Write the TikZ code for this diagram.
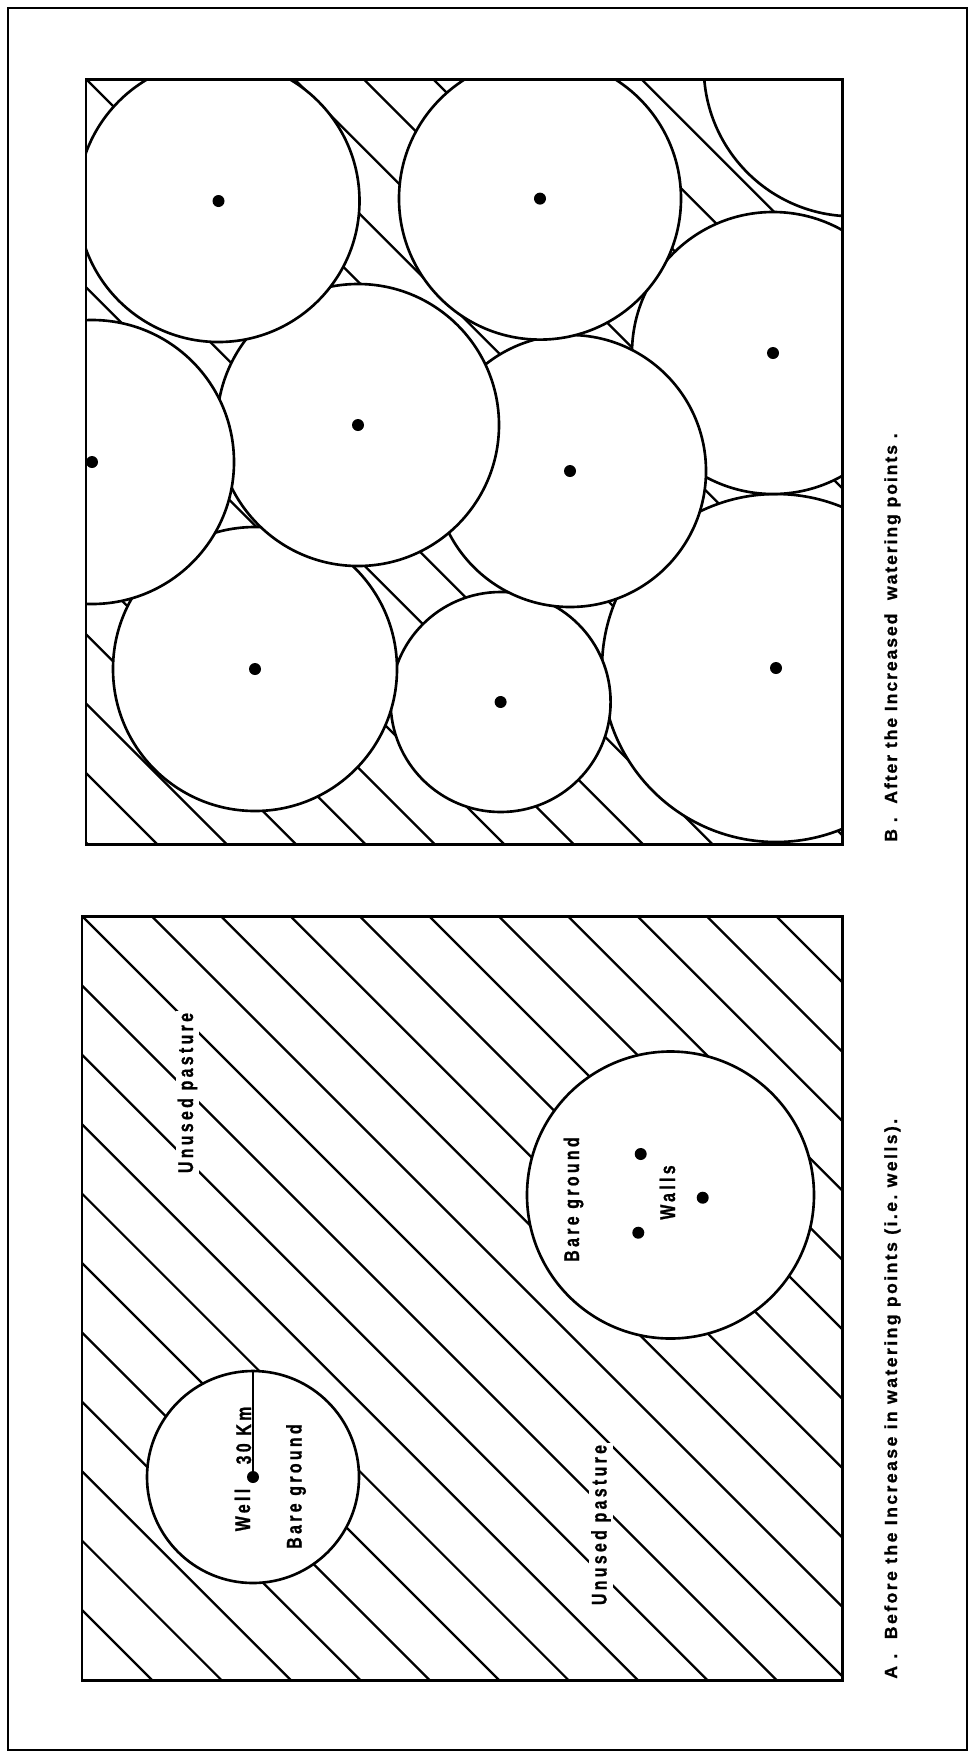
\documentclass[tikz,border=0pt]{standalone}
\usepackage{fontspec}
\setmainfont{Liberation Sans}
\newfontfamily\fuenteley[LetterSpace=11,FakeBold=1]{Liberation Sans}
\newfontfamily\fuenteleyA[LetterSpace=14,FakeBold=1]{Liberation Sans}
\newfontfamily\fuenterot[LetterSpace=16,FakeStretch=0.75,FakeBold=1]{Liberation Sans}
\usetikzlibrary{positioning}
\tikzset{
  marco/.style={draw=black,line width=1.3pt},
  zona/.style={draw=black,line width=1.7pt},
  rayado/.style={draw=black,line width=1.3pt},
  contorno/.style={draw=black,line width=1.5pt},
  disco/.style={contorno,fill=white},
  punto/.style={fill=black},
  rotulo/.style={rotate=90,anchor=base,inner sep=1pt,font=\fuenterot\bfseries\fontsize{12}{14}\selectfont},
  fondo/.style={fill=white},
  leyenda/.style={rotate=90,anchor=base west,inner sep=0pt,font=\fuenteley\bfseries\fontsize{10}{12}\selectfont},
}
\frenchspacing
\begin{document}
\begin{tikzpicture}[x=0.02cm,y=-0.02cm]
\useasboundingbox (0,0) rectangle (974,1759);
\coordinate (m1) at (8,8);
\coordinate (m2) at (967,1750);
% B: after
\coordinate (B1) at (86,79);
\coordinate (B2) at (842,844);
\coordinate (b1) at (218.5,201);
\coordinate (b2) at (540,198.6);
\coordinate (b3) at (852.8,67.3);
\coordinate (b4) at (773,353);
\coordinate (b5) at (92,462);
\coordinate (b6) at (358,425);
\coordinate (b7) at (570,471);
\coordinate (b8) at (255,669);
\coordinate (b9) at (500.6,702);
\coordinate (b10) at (776,668);
% A: before
\coordinate (A1) at (82,916);
\coordinate (A2) at (842,1680);
\coordinate (a1) at (253,1477);
\coordinate (a1top) at (253,1371);
\coordinate (a2) at (670.5,1195);
\coordinate (w1) at (640.7,1154);
\coordinate (w2) at (702.7,1197.7);
\coordinate (w3) at (638.3,1232.7);
\draw[marco] (m1) rectangle (m2);
\begin{scope}
\clip (B1) rectangle (B2);
\foreach \k in {-12,...,12}
  \draw[rayado] (60,{53+69.4*\k}) -- (870,{863+69.4*\k});
% later discs hide the earlier outlines
\foreach \c/\r in {b10/174,b9/110,b4/141,b7/136,b8/142,b6/141,b5/142,b1/141,b2/141,b3/149}
  \filldraw[disco] (\c) circle[radius=\r];
\foreach \c in {b1,b2,b4,b5,b6,b7,b8,b9,b10}
  \fill[punto] (\c) circle[radius=6];
\end{scope}
\draw[zona] (B1) rectangle (B2);
\begin{scope}
\clip (A1) rectangle (A2);
\foreach \k in {-12,...,12}
  \draw[rayado] (60,{894+69.4*\k}) -- (870,{1704+69.4*\k});
\foreach \c/\r in {a1/106,a2/143.5}
  \filldraw[disco] (\c) circle[radius=\r];
\end{scope}
\draw[zona] (A1) rectangle (A2);
\foreach \c in {a1,w1,w2,w3}
  \fill[punto] (\c) circle[radius=6];
\node[rotulo,fondo] (pasto1) at (193,1093) {Unused pasture};
\node[rotulo,fondo] (pasto2) at (606.5,1525) {Unused pasture};
\node[rotulo] (pozo) at (250,1510) {Well};
\node[rotulo] (dist) at (251,1435.5) {30 Km};
\node[rotulo] (suelo1) at (301.5,1486.5) {Bare ground};
\node[rotulo] (suelo2) at (579,1199.5) {Bare ground};
\node[rotulo] (pozos) at (675,1192.5) {Walls};
\draw[contorno] (a1) -- (a1top);
\node[leyenda] (leyB) at (897,842) {B .\ \ After the Increased\ \ watering points .};
\node[leyenda,font=\fuenteleyA\bfseries\fontsize{10}{12}\selectfont] (leyA) at (897,1679) {A .\ \ Before the Increase in watering points (i.e.\ wells).};
\end{tikzpicture}
\end{document}
